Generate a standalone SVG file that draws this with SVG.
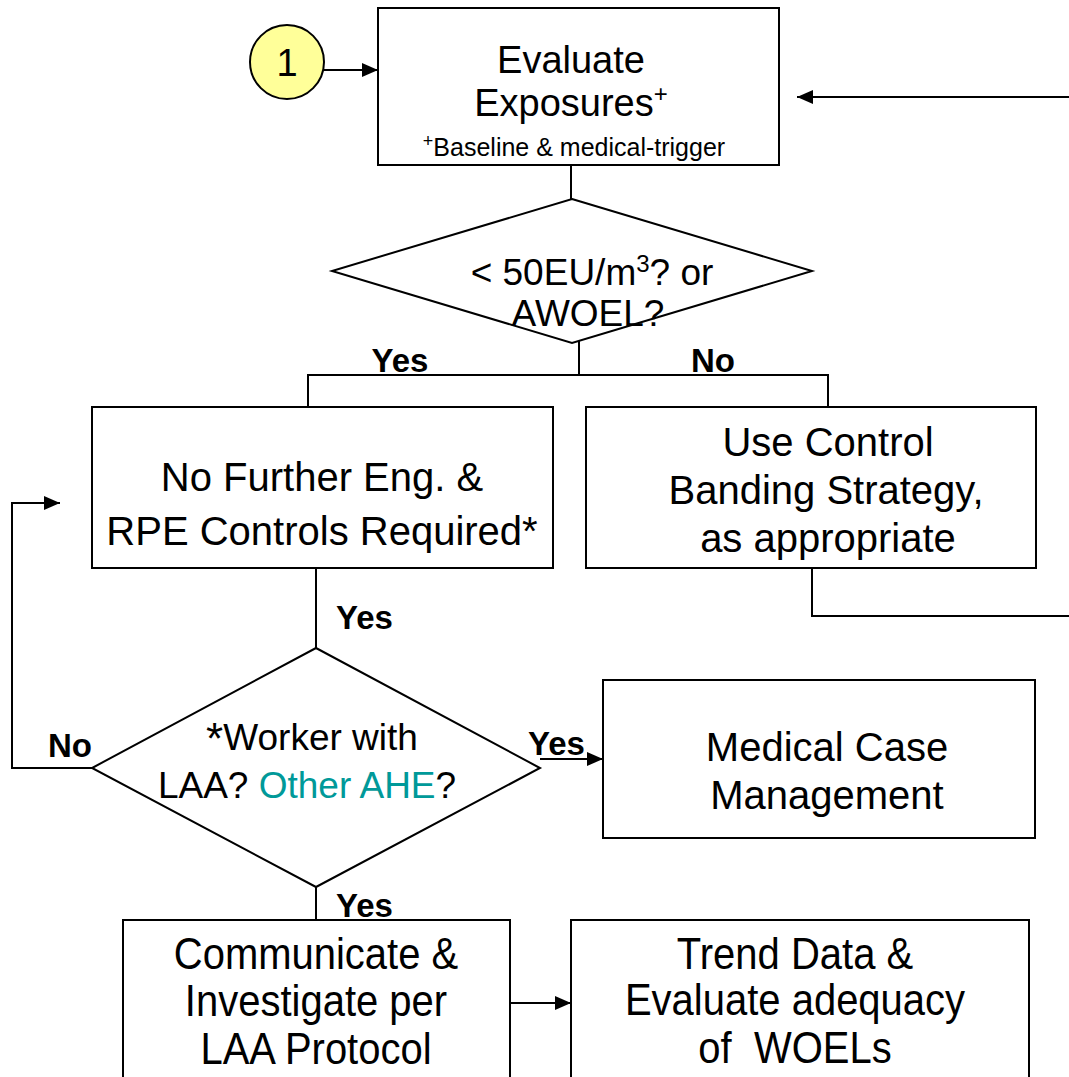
<svg xmlns="http://www.w3.org/2000/svg" width="1069" height="1077" viewBox="0 0 1069 1077">
<style>
.box{fill:#fff;stroke:#000;stroke-width:2}
.ln{fill:none;stroke:#000;stroke-width:2}
.t{font-family:"Liberation Sans",Arial,sans-serif;font-size:40px;fill:#000;text-anchor:middle}
.td{font-family:"Liberation Sans",Arial,sans-serif;font-size:37px;fill:#000;text-anchor:middle}
.b{font-family:"Liberation Sans",Arial,sans-serif;font-size:33px;font-weight:bold;fill:#000}
.teal{fill:#009999}
</style>
<defs>
<marker id="ah" viewBox="0 0 16 14" refX="16" refY="7" markerWidth="16" markerHeight="14" markerUnits="userSpaceOnUse" orient="auto">
<path d="M0,0 L16,7 L0,14 Z" fill="#000"/>
</marker>
</defs>
<rect width="1069" height="1077" fill="#fff"/>
<g id="connectors">
<line class="ln" x1="324" y1="70" x2="378" y2="70" marker-end="url(#ah)"/>
<line class="ln" x1="1069" y1="97" x2="797" y2="97" marker-end="url(#ah)"/>
<line class="ln" x1="571" y1="165" x2="571" y2="199"/>
<line class="ln" x1="579" y1="341" x2="579" y2="375"/>
<polyline class="ln" points="308,407 308,375 828,375 828,407"/>
<polyline class="ln" points="812,568 812,616 1069,616"/>
<line class="ln" x1="316" y1="568" x2="316" y2="648"/>
<polyline class="ln" points="92,768 12,768 12,503 60,503" marker-end="url(#ah)"/>
<line class="ln" x1="540" y1="759" x2="603" y2="759" marker-end="url(#ah)"/>
<line class="ln" x1="316" y1="887" x2="316" y2="920"/>
<line class="ln" x1="510" y1="1003" x2="571" y2="1003" marker-end="url(#ah)"/>
</g>
<g id="start">
<circle cx="287" cy="62" r="37" fill="#FFFF99" stroke="#000" stroke-width="2"/>
<text class="t" x="287" y="76" style="font-size:38px">1</text>
</g>
<g id="evaluate">
<rect class="box" x="378" y="8" width="401" height="157"/>
<text class="t" x="571" y="73" style="font-size:38px">Evaluate</text>
<text class="t" x="571" y="116" style="font-size:38px">Exposures<tspan font-size="24" dy="-14">+</tspan></text>
<text class="t" x="574" y="156" style="font-size:25px"><tspan font-size="18" dy="-9">+</tspan><tspan dy="9">Baseline &amp; medical-trigger</tspan></text>
</g>
<g id="decision1">
<polygon class="box" points="572,199 812,271 572,343 332,271"/>
<text class="td" x="592" y="285">&lt; 50EU/m<tspan font-size="24" dy="-13">3</tspan><tspan dy="13">? or</tspan></text>
<text class="td" x="588" y="326">AWOEL?</text>
<text class="b" x="400" y="372" text-anchor="middle">Yes</text>
<text class="b" x="713" y="372" text-anchor="middle">No</text>
</g>
<g id="no-further">
<rect class="box" x="92" y="407" width="461" height="161"/>
<text class="t" x="322" y="491">No Further Eng. &amp;</text>
<text class="t" x="322" y="545">RPE Controls Required*</text>
</g>
<g id="control-banding">
<rect class="box" x="586" y="407" width="450" height="161"/>
<text class="t" x="828" y="456">Use Control</text>
<text class="t" x="826" y="504">Banding Strategy,</text>
<text class="t" x="828" y="552">as appropriate</text>
</g>
<text class="b" x="336" y="629">Yes</text>
<g id="decision2">
<polygon class="box" points="316,648 540,768 316,887 92,768"/>
<text class="td" x="312" y="750"><tspan font-size="44" dy="4">*</tspan><tspan dy="-4">Worker with</tspan></text>
<text class="td" x="307" y="798">LAA? <tspan class="teal">Other AHE</tspan>?</text>
<text class="b" x="48" y="757">No</text>
<text class="b" x="528" y="755">Yes</text>
</g>
<g id="medical">
<rect class="box" x="603" y="680" width="432" height="158"/>
<text class="t" x="827" y="761">Medical Case</text>
<text class="t" x="827" y="809">Management</text>
</g>
<text class="b" x="336" y="917">Yes</text>
<g id="communicate">
<rect class="box" x="123" y="920" width="387" height="170"/>
<text class="t" transform="translate(316,969) scale(1,1.1)">Communicate &amp;</text>
<text class="t" transform="translate(316,1016) scale(1,1.1)">Investigate per</text>
<text class="t" transform="translate(316,1064) scale(1,1.1)">LAA Protocol</text>
</g>
<g id="trend">
<rect class="box" x="571" y="920" width="458" height="170"/>
<text class="t" transform="translate(795,969) scale(1,1.1)">Trend Data &amp;</text>
<text class="t" transform="translate(795,1015) scale(1,1.1)">Evaluate adequacy</text>
<text class="t" transform="translate(795,1063) scale(1,1.1)">of&#160; WOELs</text>
</g>
</svg>
